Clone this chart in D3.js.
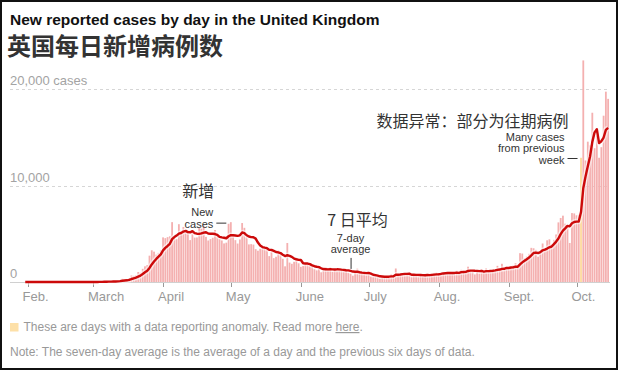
<!DOCTYPE html>
<html>
<head>
<meta charset="utf-8">
<script src="https://cdn.jsdelivr.net/npm/d3@7"></script>
<style>
  body { margin: 0; background: #fff; }
  svg { display: block; }
</style>
</head>
<body>
<div id="chart"></div>
<script>
// daily reported cases, first day is Jan 31 2020
const firstDay = "2020-01-31";
const jan = [2];
const feb = [0,0,0,0,0,1,0,0,0,4,1,1,0,0,0,0,0,0,0,0,0,0,0,0,0,1,0,7,3];
const mar = [13,4,11,34,29,48,45,69,43,62,77,130,208,342,232,171,407,676,643,714,
             1035,965,1367,1627,1752,2729,3285,3146,2833,3019,3309];
const apr = [4624,4544,4650,4735,6203,4502,4434,5991,5044,5706,5234,5288,4342,5252,4603,
             4617,5599,5525,5850,4676,4301,4451,4583,5386,4913,4463,4309,3996,4076,6032];
const may = [6201,4806,4339,3985,4406,6111,5614,4649,3896,3923,3877,3403,3242,3446,3560,
             3451,3534,2684,3412,2472,2615,3287,2959,2409,1625,4043,2013,1887,2095,2445,1936];
const jun = [1570,1653,1871,1805,1650,1557,1326,1205,1387,1003,1266,1541,1425,1514,1056,
             1279,1115,1218,1346,1295,1221,958,874,653,1118,1380,890,901,815,689];
const jul = [829,576,544,624,516,352,581,630,512,642,820,650,1400,638,759,
             787,827,846,826,545,680,660,769,767,768,743,685,581,863,946,980];
const aug = [818,994,1032,737,981,1045,958,834,1168,898,1263,1110,1136,1585,1113,
             1144,784,1198,893,1300,1136,1417,1145,938,1302,1153,1674,1404,1887,1219,1547];
const sep = [1295,1508,1735,1940,1813,2988,2948,2460,2659,2919,3539,3497,3330,2621,3105,
             3991,3395,4322,4422,3899,4368,4926,6178,6634,6874,6042,5693,4044,7143,7108];
const oct = [6914,6968,12872,22961,12594,14542,14162,17540,13864,15166,12872,13972,17234,19724,18980];

const anomalyDays = ["2020-10-03"];

const monthTicks = ["2020-02-01","2020-03-01","2020-04-01","2020-05-01","2020-06-01",
                    "2020-07-01","2020-08-01","2020-09-01","2020-10-01"];
const monthLabels = ["Feb.","March","April","May","June","July","Aug.","Sept.","Oct."];

const yTicks = [0, 10000, 20000];
const yLabels = ["0", "10,000", "20,000 cases"];

const width = 618, height = 370;
const sans = "'Liberation Sans', Arial, sans-serif";
const cjk = "'Noto Sans CJK SC', sans-serif";
const grey = "#999";

const parse = d3.utcParse("%Y-%m-%d");
const start = parse(firstDay);
const cases = [].concat(jan, feb, mar, apr, may, jun, jul, aug, sep, oct);

const data = cases.map((v, i) => ({date: d3.utcDay.offset(start, i), value: v}));
// seven-day average: the day and the six before it
data.forEach((d, i) => {
  d.avg = d3.mean(data.slice(Math.max(0, i - 6), i + 1), e => e.value);
});
const anomalies = new Set(anomalyDays);
const fmt = d3.utcFormat("%Y-%m-%d");

const x = d3.scaleUtc()
    .domain([parse(monthTicks[0]), parse(monthTicks[monthTicks.length - 1])])
    .range([27.5, 576.5]);

const y = d3.scaleLinear()
    .domain([0, 20000])
    .range([282, 89]);

const svg = d3.select("#chart")
  .append("svg")
    .attr("width", width)
    .attr("height", height);

svg.append("rect")
    .attr("x", 1).attr("y", 1)
    .attr("width", width - 2).attr("height", height - 2)
    .attr("fill", "#fff")
    .attr("stroke", "#111")
    .attr("stroke-width", 2);

// titles
svg.append("text")
    .attr("x", 10).attr("y", 25)
    .style("font", `bold 15.5px ${sans}`)
    .attr("fill", "#111")
    .text("New reported cases by day in the United Kingdom");

svg.append("text")
    .attr("x", 7).attr("y", 54.5)
    .style("font", `bold 24px ${cjk}`)
    .attr("fill", "#333")
    .text("英国每日新增病例数");

// gridlines
const grid = svg.append("g");
grid.selectAll("line")
  .data(yTicks.filter(d => d > 0))
  .join("line")
    .attr("x1", 10).attr("x2", 610)
    .attr("y1", d => Math.round(y(d)) + 0.5)
    .attr("y2", d => Math.round(y(d)) + 0.5)
    .attr("stroke", "#d6d6d6")
    .attr("stroke-dasharray", "3,3");

grid.selectAll("text")
  .data(yTicks)
  .join("text")
    .attr("x", 10)
    .attr("y", d => y(d) - 4)
    .style("font", `13px ${sans}`)
    .attr("fill", "#a3a3a3")
    .text((d, i) => yLabels[i]);

// bars
const bw = 1.8;
svg.append("g")
  .selectAll("rect")
  .data(data.filter(d => d.value > 0))
  .join("rect")
    .attr("x", d => x(d.date) - bw / 2)
    .attr("width", bw)
    .attr("y", d => y(d.value))
    .attr("height", d => y(0) - y(d.value))
    .attr("fill", d => anomalies.has(fmt(d.date)) ? "#fdd99c" : "#f4b0b0");

// baseline and month ticks
svg.append("line")
    .attr("x1", 10).attr("x2", 610)
    .attr("y1", 282.5).attr("y2", 282.5)
    .attr("stroke", "#d0d0d0");

const xAxis = svg.append("g");
xAxis.selectAll("line")
  .data(monthTicks)
  .join("line")
    .attr("x1", d => Math.round(x(parse(d))) + 0.5)
    .attr("x2", d => Math.round(x(parse(d))) + 0.5)
    .attr("y1", 283).attr("y2", 287)
    .attr("stroke", "#999");

xAxis.selectAll("text")
  .data(monthTicks)
  .join("text")
    .attr("x", d => x(parse(d)) - 5)
    .attr("y", 301)
    .style("font", `13px ${sans}`)
    .attr("fill", "#999")
    .text((d, i) => monthLabels[i]);

// seven-day average line
const line = d3.line()
    .x(d => x(d.date))
    .y(d => y(d.avg));

svg.append("path")
    .datum(data)
    .attr("fill", "none")
    .attr("stroke", "#fff")
    .attr("stroke-opacity", 0.55)
    .attr("stroke-width", 5.5)
    .attr("stroke-linejoin", "round")
    .attr("d", line);

svg.append("path")
    .datum(data)
    .attr("fill", "none")
    .attr("stroke", "#cc0a0a")
    .attr("stroke-width", 2.4)
    .attr("stroke-linejoin", "round")
    .attr("d", line);

// annotations
const note = svg.append("g").attr("fill", "#333");

// "new cases" points at the bars in late April
const ncX = x(parse("2020-04-29")), ncY = y(6100);
note.append("text")
    .attr("x", ncX - 28).attr("y", ncY - 26)
    .attr("text-anchor", "middle")
    .style("font", `16px ${cjk}`)
    .text("新增");
note.append("text")
    .attr("x", ncX - 13).attr("y", ncY - 7)
    .attr("text-anchor", "end")
    .style("font", `11px ${sans}`)
    .text("New");
note.append("text")
    .attr("x", ncX - 13).attr("y", ncY + 4.5)
    .attr("text-anchor", "end")
    .style("font", `11px ${sans}`)
    .text("cases");
note.append("line")
    .attr("x1", ncX - 10).attr("x2", ncX)
    .attr("y1", ncY).attr("y2", ncY)
    .attr("stroke", "#333");

// "7-day average" points down at the line
const avgDay = data.find(d => fmt(d.date) === "2020-06-23");
const avX = x(avgDay.date), avY = y(avgDay.avg) - 2;
note.append("text")
    .attr("x", avX + 7).attr("y", avY - 43)
    .attr("text-anchor", "middle")
    .style("font", `16px ${cjk}`)
    .text("7 日平均");
note.append("text")
    .attr("x", avX).attr("y", avY - 27)
    .attr("text-anchor", "middle")
    .style("font", `11px ${sans}`)
    .text("7-day");
note.append("text")
    .attr("x", avX).attr("y", avY - 15.5)
    .attr("text-anchor", "middle")
    .style("font", `11px ${sans}`)
    .text("average");
note.append("line")
    .attr("x1", avX + 0.5).attr("x2", avX + 0.5)
    .attr("y1", avY - 11).attr("y2", avY)
    .attr("stroke", "#333");

// anomaly note points at the yellow bar
const anDay = data.find(d => anomalies.has(fmt(d.date)));
const anX = x(anDay.date) - 3.5, anY = Math.round(y(anDay.value)) + 0.5;
note.append("text")
    .attr("x", anX - 9).attr("y", anY - 32)
    .attr("text-anchor", "end")
    .style("font", `16px ${cjk}`)
    .text("数据异常：部分为往期病例");
["Many cases", "from previous", "week"].forEach((t, i) => {
  note.append("text")
      .attr("x", anX - 13).attr("y", anY - 18 + i * 11.5)
      .attr("text-anchor", "end")
      .style("font", `11px ${sans}`)
      .text(t);
});
note.append("line")
    .attr("x1", anX - 10).attr("x2", anX)
    .attr("y1", anY).attr("y2", anY)
    .attr("stroke", "#333");

// footer
svg.append("rect")
    .attr("x", 10).attr("y", 323)
    .attr("width", 8.5).attr("height", 8.5)
    .attr("fill", "#fde0a8");

const foot = svg.append("text")
    .attr("x", 23.5).attr("y", 331)
    .style("font", `12px ${sans}`)
    .attr("fill", grey);
foot.append("tspan").text("These are days with a data reporting anomaly. Read more ");
foot.append("tspan").attr("text-decoration", "underline").text("here");
foot.append("tspan").text(".");

svg.append("text")
    .attr("x", 10).attr("y", 356)
    .style("font", `12px ${sans}`)
    .attr("fill", grey)
    .text("Note: The seven-day average is the average of a day and the previous six days of data.");
</script>
</body>
</html>
